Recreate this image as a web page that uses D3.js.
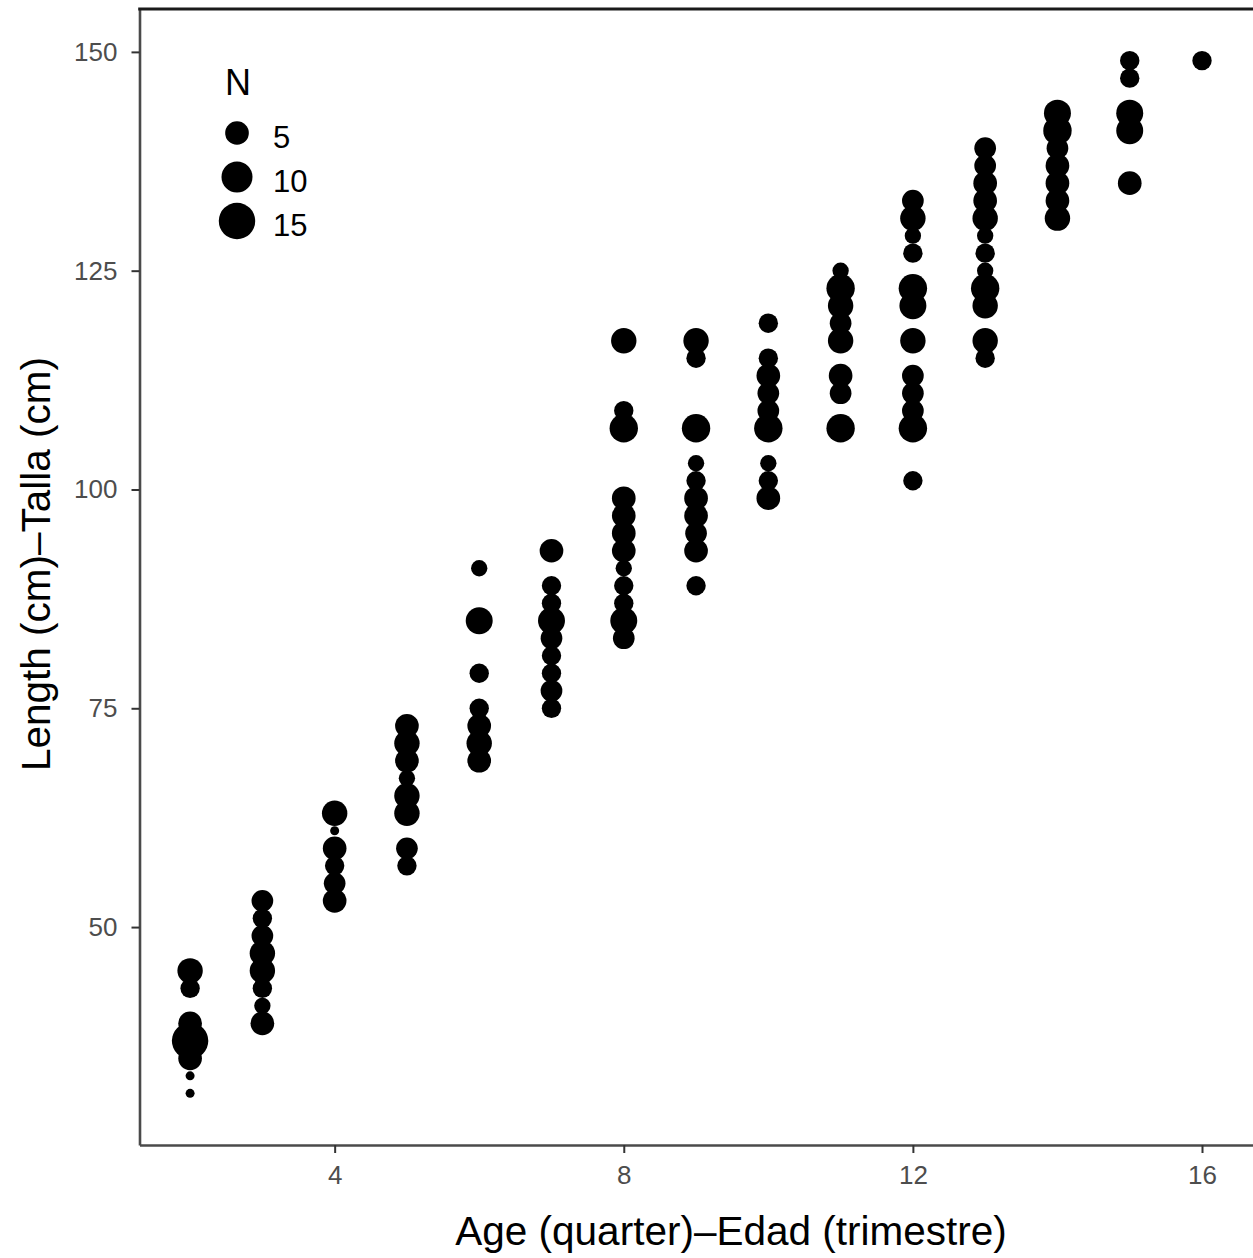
<!DOCTYPE html>
<html>
<head>
<meta charset="utf-8">
<script src="https://cdn.jsdelivr.net/npm/d3@7"></script>
<style>
  body { margin: 0; background: #fff; }
  text { font-family: "Liberation Sans", Arial, sans-serif; }
</style>
</head>
<body>
<div id="chart"></div>
<script>
// age in quarters, length classes (cm) and number of fish in each class
const ages = [2, 3, 4, 5, 6, 7, 8, 9, 10, 11, 12, 13, 14, 15, 16];
const lengthsByAge = [
  [45, 43, 39, 37, 35, 33, 31],
  [53, 51, 49, 47, 45, 43, 41, 39],
  [63, 61, 59, 57, 55, 53],
  [73, 71, 69, 67, 65, 63, 59, 57],
  [91, 85, 79, 75, 73, 71, 69],
  [93, 89, 87, 85, 83, 81, 79, 77, 75],
  [117, 109, 107, 99, 97, 95, 93, 91, 89, 87, 85, 83],
  [117, 115, 107, 103, 101, 99, 97, 95, 93, 89],
  [119, 115, 113, 111, 109, 107, 103, 101, 99],
  [125, 123, 121, 119, 117, 113, 111, 107],
  [133, 131, 129, 127, 123, 121, 117, 113, 111, 109, 107, 101],
  [139, 137, 135, 133, 131, 129, 127, 125, 123, 121, 117, 115],
  [143, 141, 139, 137, 135, 133, 131],
  [149, 147, 143, 141, 135],
  [149]
];
const countsByAge = [
  [6, 3, 5, 15, 5, 1, 1],
  [4, 3, 4, 6, 6, 3, 2, 5],
  [6, 1, 5, 3, 4, 5],
  [5, 6, 5, 2, 6, 6, 4, 3],
  [2, 7, 3, 3, 5, 6, 5],
  [5, 3, 3, 7, 4, 3, 3, 4, 3],
  [6, 3, 8, 5, 5, 5, 5, 2, 3, 3, 7, 4],
  [6, 3, 8, 2, 3, 5, 5, 4, 5, 3],
  [3, 3, 5, 4, 4, 8, 2, 3, 5],
  [2, 8, 6, 4, 6, 5, 4, 8],
  [4, 6, 2, 3, 8, 7, 6, 4, 4, 4, 8, 3],
  [4, 4, 5, 5, 6, 2, 3, 2, 8, 6, 6, 3],
  [7, 8, 4, 5, 5, 5, 6],
  [3, 3, 7, 7, 5],
  [3]
];
const xTicks = [4, 8, 12, 16];
const yTicks = [50, 75, 100, 125, 150];
const legendCounts = [5, 10, 15];

const W = 1253, H = 1258;
const m = {top: 9, right: 0.4, bottom: 113, left: 139.5};

const points = [];
ages.forEach((a, i) => {
  lengthsByAge[i].forEach((len, j) => {
    points.push({age: a, len: len, n: countsByAge[i][j]});
  });
});

const nMin = 1, nMax = 16;

const svg = d3.select("#chart").append("svg")
  .attr("width", W)
  .attr("height", H);

const x = d3.scaleLinear().domain([1.3, 16.7]).range([m.left, W - m.right]);
const y = d3.scaleLinear().domain([25.1, 154.9]).range([H - m.bottom, m.top]);

// ggplot style area scale: radius grows with sqrt of rescaled count
const rLin = d3.scaleLinear().domain([0, 1]).range([4.5, 18.7]);
const r = (n) => rLin(Math.sqrt((n - nMin) / (nMax - nMin)));

// points
svg.append("g")
  .selectAll("circle")
  .data(points)
  .enter().append("circle")
  .attr("cx", (d) => x(d.age))
  .attr("cy", (d) => y(d.len))
  .attr("r", (d) => r(d.n))
  .attr("fill", "#000");

// axes
const xAxis = svg.append("g")
  .attr("transform", "translate(0," + (H - m.bottom) + ")")
  .call(d3.axisBottom(x).tickValues(xTicks).tickSizeInner(8).tickSizeOuter(0)
    .tickPadding(13).tickFormat(d3.format("d")));

const yAxis = svg.append("g")
  .attr("transform", "translate(" + m.left + ",0)")
  .call(d3.axisLeft(y).tickValues(yTicks).tickSizeInner(8).tickSizeOuter(0)
    .tickPadding(14).tickFormat(d3.format("d")));

[xAxis, yAxis].forEach((ax) => {
  ax.select(".domain").attr("stroke", "#4a4a4a").attr("stroke-width", 2.6);
  ax.selectAll(".tick line").attr("stroke", "#333").attr("stroke-width", 2);
  ax.selectAll(".tick text")
    .attr("fill", "#4d4d4d")
    .style("font-size", "26px")
    .style("font-family", "'Liberation Sans', Arial, sans-serif");
});

// top border line
svg.append("line")
  .attr("x1", m.left - 1.3).attr("x2", W)
  .attr("y1", y(154.9)).attr("y2", y(154.9))
  .attr("stroke", "#1a1a1a")
  .attr("stroke-width", 2.8);

// axis titles
svg.append("text")
  .attr("x", 731)
  .attr("y", 1245)
  .attr("text-anchor", "middle")
  .style("font-size", "40.5px")
  .attr("fill", "#000")
  .text("Age (quarter)–Edad (trimestre)");

svg.append("text")
  .attr("transform", "translate(50,564) rotate(-90)")
  .attr("text-anchor", "middle")
  .style("font-size", "40.5px")
  .attr("fill", "#000")
  .text("Length (cm)–Talla (cm)");

// size legend
const leg = svg.append("g").attr("transform", "translate(237,0)");
leg.append("text")
  .attr("x", -12).attr("y", 95)
  .style("font-size", "36px")
  .text("N");
const legY = [133, 177, 221];
legendCounts.forEach((n, i) => {
  leg.append("circle")
    .attr("cx", 0).attr("cy", legY[i])
    .attr("r", r(n))
    .attr("fill", "#000");
  leg.append("text")
    .attr("x", 36).attr("y", legY[i] + 15)
    .style("font-size", "31px")
    .text(n);
});
</script>
</body>
</html>
